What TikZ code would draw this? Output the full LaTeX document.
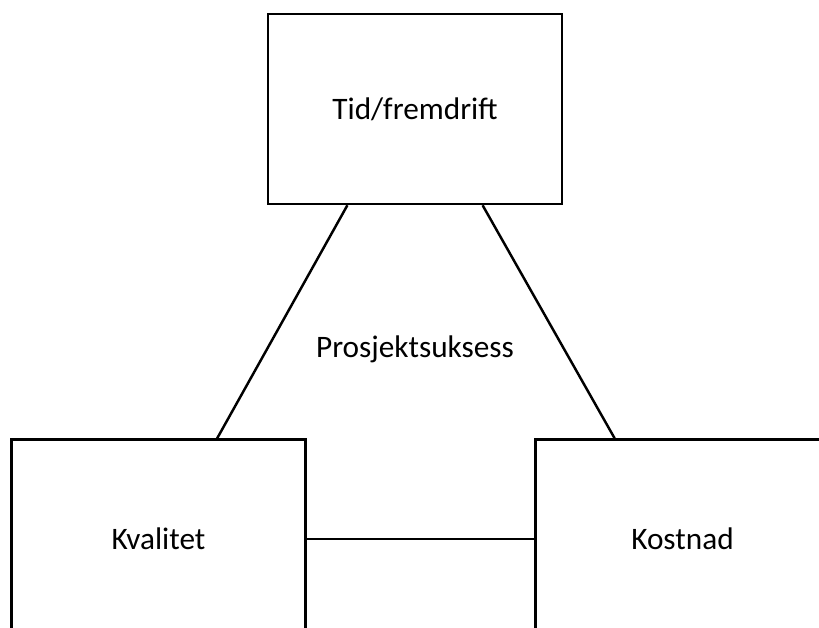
\documentclass[tikz,border=0pt]{standalone}
\usepackage{fontspec}
\setmainfont{Carlito}
\usetikzlibrary{calc}

\begin{document}
\begin{tikzpicture}[x=0.02cm, y=-0.02cm,
    every node/.style={font=\fontsize{17.8}{21}\selectfont},
    box/.style={draw, line width=1.4pt, minimum width=5.88cm, minimum height=3.8cm, inner sep=0pt},
    link/.style={line width=1.4pt}]
    \useasboundingbox (0,0) rectangle (819,628);
    \clip (0,0) rectangle (819,628);
    % Boxes
    \node[box] (tid) at (415,109) {Tid/fremdrift};
    \node[box, minimum height=3.98cm] (kvalitet) at (158.5,539) {Kvalitet};
    \node[box, minimum height=3.98cm] (kostnad) at (682.5,539) {Kostnad};
    % Middle
    \node[anchor=base] (suksess) at (415,358) {Prosjektsuksess};
    % Ends
    \coordinate (tidL) at ($(tid.south west)!0.272!(tid.south east)$);
    \coordinate (tidR) at ($(tid.south west)!0.728!(tid.south east)$);
    \coordinate (kvalitetT) at ($(kvalitet.north west)!0.698!(kvalitet.north east)$);
    \coordinate (kostnadT) at ($(kostnad.north west)!0.271!(kostnad.north east)$);
    % Lines
    \draw[link] (tidL) -- (kvalitetT);
    \draw[link] (tidR) -- (kostnadT);
    \draw[link] (kvalitet.east) -- (kostnad.west);
\end{tikzpicture}
\end{document}
